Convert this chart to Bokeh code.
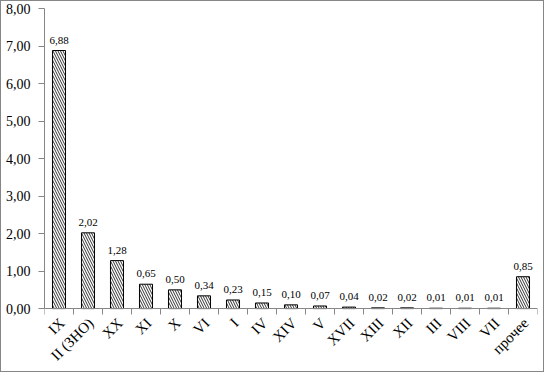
import math
from bokeh.plotting import figure
from bokeh.models import Range1d, FixedTicker, ColumnDataSource
from bokeh.core.properties import value
from bokeh.embed import file_html
from bokeh.resources import INLINE

categories = ["IX", "II (ЗНО)", "XX", "XI", "X", "VI", "I", "IV", "XIV", "V",
              "XVII", "XIII", "XII", "III", "VIII", "VII", "прочее"]
values = [6.88, 2.02, 1.28, 0.65, 0.50, 0.34, 0.23, 0.15, 0.10, 0.07,
          0.04, 0.02, 0.02, 0.01, 0.01, 0.01, 0.85]
y_ticks = [0, 1, 2, 3, 4, 5, 6, 7, 8]

FONT = "Liberation Serif"
GREY = "#868686"

n = len(categories)
xs = [i + 0.5 for i in range(n)]
labels = [f"{v:.2f}".replace(".", ",") for v in values]
src = ColumnDataSource(dict(x=xs, top=values, label=labels,
                            cat=categories, zero=[0] * n))

p = figure(width=544, height=372, output_backend="svg", toolbar_location=None,
           x_range=Range1d(0, n), y_range=Range1d(-1.73, 8),
           min_border_left=43, min_border_right=8, min_border_top=7, min_border_bottom=0)
p.styles = {"border": f"1px solid {GREY}", "box-sizing": "border-box"}
p.outline_line_color = None
p.xgrid.visible = False
p.ygrid.visible = False

p.vbar(x="x", top="top", bottom=0, width=0.45, source=src,
       fill_color="white", line_color="black", line_width=1,
       hatch_pattern="\\", hatch_color="black", hatch_scale=5, hatch_weight=0.8)

p.text(x="x", y="top", text="label", source=src, y_offset=-7,
       text_font=value(FONT), text_font_size="11px", text_align="center",
       text_baseline="bottom", text_color="black")

# category labels, rotated 45 degrees under the zero line
p.text(x="x", y="zero", text="cat", source=src, x_offset=3, y_offset=12,
       angle=math.pi / 4, text_font=value(FONT), text_font_size="15px",
       text_align="right", text_baseline="middle", text_color="black")

# y axis
ya = p.yaxis[0]
ya.ticker = FixedTicker(ticks=y_ticks)
ya.bounds = (0, 8)
ya.major_label_overrides = {t: f"{t:.2f}".replace(".", ",") for t in y_ticks}
ya.axis_line_color = GREY
ya.major_tick_line_color = GREY
ya.major_tick_out = 6
ya.major_tick_in = 0
ya.minor_tick_line_color = None
ya.major_label_text_font = FONT
ya.major_label_text_font_size = "14px"
ya.major_label_text_color = "black"
ya.major_label_standoff = 8

# x axis at zero: tick marks between categories
xa = p.xaxis[0]
xa.fixed_location = 0
xa.ticker = FixedTicker(ticks=xs, minor_ticks=list(range(n + 1)))
xa.major_label_text_color = None
xa.major_label_text_font_size = "0px"
xa.major_label_standoff = 0
xa.axis_line_color = GREY
xa.major_tick_line_color = None
xa.major_tick_out = 0
xa.minor_tick_line_color = GREY
xa.minor_tick_out = 6
xa.minor_tick_in = 0

open("out.html", "w").write(file_html(p, INLINE))
